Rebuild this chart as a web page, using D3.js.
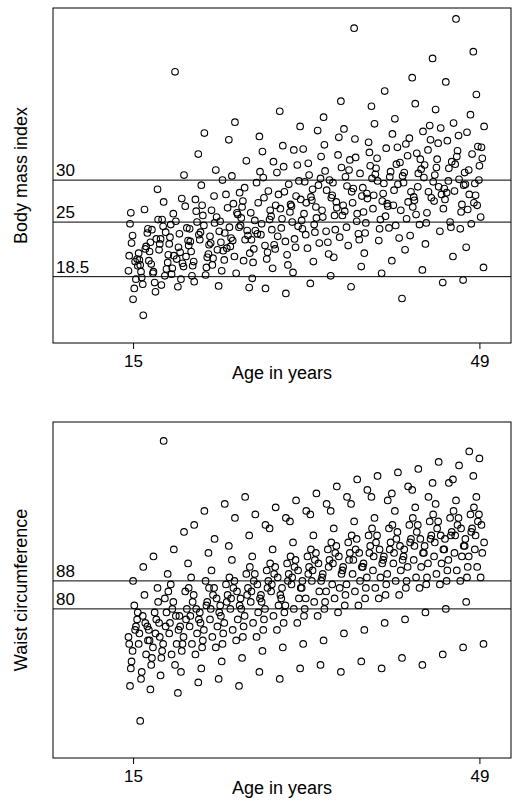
<!DOCTYPE html>
<html>
<head>
<meta charset="utf-8">
<script src="https://cdn.jsdelivr.net/npm/d3@7"></script>
<style>
  body { margin: 0; background: #fff; }
  text { font-family: Arial, "Liberation Sans", sans-serif; }
</style>
</head>
<body>
<svg id="chart" width="528" height="800"></svg>
<script>
// ages in whole years, with the within-year position
const years = d3.range(15, 50)
const ageOffset = [-0.45, -0.15, 0.12, -0.3, 0.4, 0.0, -0.38, 0.28, -0.05, 0.46, -0.22, 0.2]

// body mass index, twelve readings per age year (15..49)
const bmiRows = [
  [19.2, 22.5, 17.1, 24.8, 20.6, 15.8, 21.0, 18.2, 23.4, 19.8, 26.1, 20.3], [21.3, 18.4, 26.5, 19.9, 23.7, 13.9, 20.5, 22.1, 17.6, 24.2, 19.1, 21.8],
  [20.4, 24.1, 17.8, 22.6, 28.9, 19.1, 21.5, 23.0, 18.9, 25.3, 20.0, 16.7], [21.7, 25.3, 18.6, 23.0, 20.2, 27.4, 22.4, 19.4, 24.5, 21.1, 17.5, 23.8],
  [22.4, 19.5, 42.9, 24.7, 17.3, 21.0, 23.2, 20.6, 26.0, 22.0, 18.8, 25.1], [23.6, 20.1, 26.9, 18.2, 22.8, 30.6, 21.4, 24.3, 19.7, 22.2, 27.8, 20.9],
  [24.2, 19.8, 27.7, 21.5, 33.1, 17.9, 22.7, 25.0, 20.3, 23.5, 18.6, 26.3], [22.9, 25.8, 18.7, 29.4, 21.2, 35.6, 23.8, 20.8, 24.6, 22.3, 27.0, 19.6],
  [23.3, 20.7, 31.2, 26.4, 17.4, 24.9, 22.5, 21.7, 28.1, 23.9, 19.9, 25.6], [25.1, 21.6, 28.3, 19.2, 34.8, 23.7, 22.6, 26.7, 20.5, 24.4, 30.0, 21.9],
  [22.1, 27.2, 18.9, 30.5, 24.4, 36.9, 23.1, 25.9, 20.9, 28.5, 22.8, 26.1], [24.6, 20.4, 32.3, 26.8, 17.2, 22.9, 25.5, 23.4, 29.1, 21.3, 27.5, 24.0],
  [26.1, 21.8, 29.7, 18.3, 35.2, 24.0, 22.9, 27.3, 25.2, 31.0, 20.2, 23.6], [23.5, 27.9, 20.6, 33.4, 25.3, 17.1, 24.8, 28.7, 22.2, 26.4, 30.3, 21.4],
  [25.7, 22.3, 30.9, 19.5, 38.2, 27.0, 24.1, 28.3, 21.8, 26.6, 32.2, 23.3], [24.3, 28.6, 21.1, 34.1, 26.2, 16.5, 25.4, 29.5, 22.7, 27.1, 31.6, 19.9],
  [26.9, 23.0, 31.8, 19.0, 36.4, 28.1, 25.0, 29.9, 22.0, 27.7, 33.6, 24.5], [25.2, 29.8, 21.9, 33.7, 17.7, 27.3, 24.2, 30.6, 23.5, 28.0, 26.0, 32.0],
  [27.6, 23.8, 35.9, 20.3, 30.2, 25.5, 28.9, 22.5, 26.8, 32.8, 24.7, 29.4], [26.4, 31.1, 22.6, 37.5, 18.6, 28.8, 25.6, 30.0, 23.9, 27.9, 34.2, 21.2],
  [28.2, 24.1, 33.0, 20.8, 39.4, 26.7, 29.7, 23.2, 27.4, 31.5, 25.8, 35.1], [25.8, 30.4, 22.2, 36.1, 17.3, 29.3, 27.0, 32.4, 24.4, 28.6, 26.3, 31.2],
  [27.3, 32.7, 23.6, 48.1, 19.7, 26.0, 29.0, 30.8, 25.1, 28.1, 34.9, 22.9], [29.1, 24.9, 34.5, 21.3, 38.8, 27.8, 26.2, 31.7, 28.4, 30.2, 23.7, 33.3],
  [26.6, 31.4, 22.8, 36.7, 18.9, 29.9, 28.2, 25.3, 32.6, 27.5, 30.7, 24.2], [28.4, 33.8, 24.3, 40.6, 20.4, 26.9, 29.6, 31.0, 27.2, 35.5, 25.7, 30.4],
  [27.0, 31.9, 23.1, 37.3, 15.9, 29.5, 28.8, 26.4, 33.9, 30.5, 24.6, 32.1], [29.7, 25.4, 35.0, 21.7, 42.2, 27.4, 30.9, 28.6, 32.9, 26.8, 34.3, 23.4],
  [28.0, 33.2, 24.7, 39.1, 19.3, 30.8, 27.6, 31.3, 29.2, 35.8, 25.9, 32.5], [30.3, 26.1, 36.5, 22.4, 44.5, 28.6, 31.8, 27.9, 33.6, 29.8, 24.9, 34.8],
  [27.5, 32.5, 23.9, 38.4, 17.8, 29.2, 30.6, 28.3, 34.4, 26.6, 31.5, 36.2], [29.0, 34.7, 25.0, 41.7, 20.9, 31.4, 27.7, 32.2, 29.9, 36.8, 28.5, 24.4],
  [28.7, 33.5, 24.2, 49.2, 18.1, 30.1, 31.9, 27.1, 35.3, 29.4, 32.8, 26.2], [30.9, 26.5, 37.8, 22.0, 45.3, 28.3, 29.5, 33.1, 31.2, 27.3, 35.7, 24.8],
  [29.6, 34.0, 25.6, 40.2, 19.6, 31.7, 28.2, 32.6, 30.0, 36.4, 27.0, 33.9]
]

// waist circumference, twelve readings per age year (15..49)
const waistRows = [
  [72, 65, 81, 58, 77, 88, 70, 75, 68, 79, 63, 74], [70, 62, 84, 48, 75, 92, 73, 67, 78, 71, 60, 76],
  [74, 66, 79, 57, 86, 95, 71, 77, 69, 82, 64, 73], [76, 68, 83, 61, 90, 128, 72, 79, 70, 85, 66, 75],
  [73, 80, 64, 87, 56, 97, 76, 70, 82, 74, 67, 78], [78, 70, 85, 62, 93, 102, 75, 80, 72, 86, 68, 77],
  [75, 82, 67, 89, 59, 104, 78, 73, 84, 77, 70, 80], [79, 71, 88, 63, 96, 108, 76, 82, 74, 86, 69, 81],
  [77, 84, 69, 91, 60, 100, 80, 75, 86, 79, 72, 83], [81, 73, 87, 65, 98, 110, 78, 84, 76, 89, 70, 82],
  [80, 86, 71, 94, 58, 106, 83, 77, 88, 81, 74, 85], [83, 75, 90, 66, 101, 112, 80, 86, 78, 92, 72, 84],
  [82, 88, 72, 95, 62, 107, 85, 79, 90, 83, 76, 87], [84, 77, 91, 68, 103, 104, 82, 88, 80, 93, 74, 86],
  [85, 90, 74, 97, 60, 109, 87, 81, 92, 84, 78, 89], [83, 79, 93, 69, 105, 106, 86, 90, 81, 95, 76, 88],
  [87, 92, 76, 99, 63, 111, 89, 83, 94, 86, 80, 91], [86, 80, 95, 70, 107, 108, 88, 92, 83, 97, 78, 90],
  [88, 94, 78, 101, 64, 113, 91, 85, 96, 88, 82, 93], [89, 82, 97, 71, 108, 110, 90, 94, 85, 99, 80, 92],
  [87, 96, 79, 103, 62, 115, 93, 86, 98, 90, 83, 95], [91, 84, 99, 73, 110, 112, 92, 96, 87, 101, 81, 94],
  [90, 97, 81, 105, 65, 117, 94, 88, 100, 92, 85, 96], [92, 86, 101, 74, 112, 114, 93, 98, 89, 103, 83, 96],
  [91, 99, 83, 106, 63, 118, 95, 89, 101, 93, 86, 97], [94, 87, 103, 76, 113, 111, 95, 99, 90, 104, 84, 97],
  [93, 100, 84, 108, 66, 119, 96, 91, 102, 94, 88, 98], [95, 88, 104, 77, 114, 115, 97, 100, 92, 106, 86, 99],
  [94, 102, 86, 109, 64, 120, 98, 92, 104, 96, 89, 100], [96, 89, 105, 79, 116, 112, 98, 101, 93, 107, 87, 100],
  [95, 103, 87, 110, 67, 122, 99, 93, 105, 97, 90, 101], [97, 91, 106, 80, 117, 116, 100, 102, 94, 108, 88, 101],
  [96, 104, 88, 111, 69, 121, 101, 95, 106, 98, 91, 103], [98, 92, 107, 82, 118, 125, 100, 103, 95, 109, 89, 102],
  [97, 105, 89, 112, 70, 123, 101, 96, 107, 99, 92, 104]
]

const ageTicks = [15, 49]
const bmiCuts = [18.5, 25, 30]
const waistCuts = [80, 88]

function toPoints (rows) {
  let pts = []
  rows.forEach(function (row, i) {
    row.forEach(function (v, j) {
      pts.push({ age: years[i] + ageOffset[j], value: v })
    })
  })
  return pts
}

let svg = d3.select('#chart')

function panel (top, bottom, yDomain, pts, cuts, yLabel) {
  let x = d3.scaleLinear().domain([7.14, 52.1]).range([53, 511])
  let y = d3.scaleLinear().domain(yDomain).range([bottom, top])
  let g = svg.append('g')

  g.selectAll('.cut')
    .data(cuts)
    .enter().append('line')
    .attr('x1', 53).attr('x2', 511)
    .attr('y1', function (d) { return y(d) })
    .attr('y2', function (d) { return y(d) })
    .attr('stroke', '#000')

  g.selectAll('.cutlab')
    .data(cuts)
    .enter().append('text')
    .attr('x', 56)
    .attr('y', function (d) { return y(d) - 4 })
    .attr('font-size', 17)
    .text(function (d) { return d })

  g.selectAll('circle')
    .data(pts)
    .enter().append('circle')
    .attr('cx', function (d) { return x(d.age) })
    .attr('cy', function (d) { return y(d.value) })
    .attr('r', 3.3)
    .attr('fill', 'none')
    .attr('stroke', '#000')
    .attr('stroke-width', 1.1)

  g.append('rect')
    .attr('x', 53).attr('y', top)
    .attr('width', 458).attr('height', bottom - top)
    .attr('fill', 'none').attr('stroke', '#000')

  let axis = d3.axisBottom(x).tickValues(ageTicks).tickSize(6).tickSizeOuter(0)
  let ax = g.append('g').attr('transform', 'translate(0,' + bottom + ')').call(axis)
  ax.select('.domain').remove()
  ax.selectAll('text').attr('font-size', 17).attr('dy', '0.9em')
    .attr('font-family', 'Arial, "Liberation Sans", sans-serif')

  g.append('text')
    .attr('x', 282).attr('y', bottom + 36)
    .attr('text-anchor', 'middle').attr('font-size', 18)
    .text('Age in years')

  g.append('text')
    .attr('transform', 'translate(27,' + (top + bottom) / 2 + ') rotate(-90)')
    .attr('text-anchor', 'middle').attr('font-size', 18)
    .text(yLabel)
}

panel(8, 343, [10.6, 50.5], toPoints(bmiRows), bmiCuts, 'Body mass index')
panel(422, 758, [37.4, 133.4], toPoints(waistRows), waistCuts, 'Waist circumference')
</script>
</body>
</html>
